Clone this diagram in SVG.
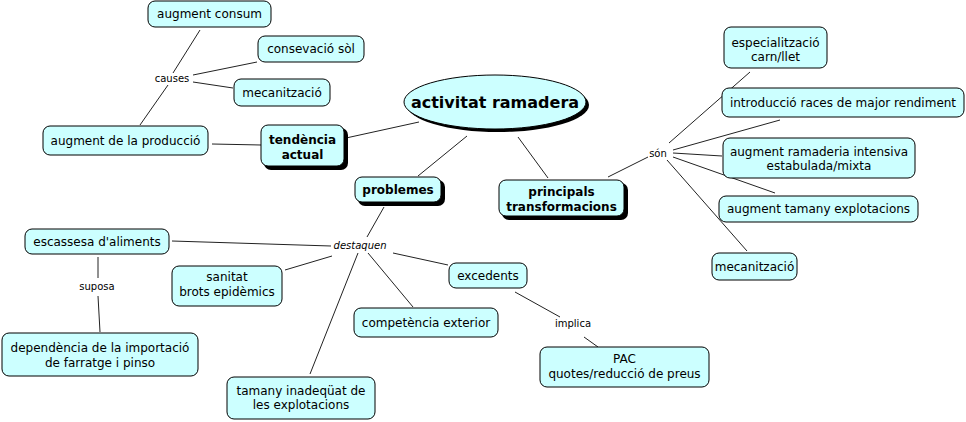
<svg xmlns="http://www.w3.org/2000/svg" width="966" height="422" viewBox="0 0 966 422">
<style>
.n{fill:#ccffff;stroke:#000;stroke-width:1}
.s{fill:#000}
.t{font-family:"DejaVu Sans",Verdana,sans-serif;font-size:12px;fill:#000;text-anchor:middle}
.b{font-weight:bold}
.l{font-family:"DejaVu Sans",Verdana,sans-serif;font-size:10px;fill:#000;text-anchor:middle}
.c line{stroke:#222;stroke-width:1}
</style>
<rect width="966" height="422" fill="#fff"/>
<g class="c" id="connectors">
<line x1="200" y1="30" x2="173" y2="73"/>
<line x1="168" y1="85" x2="140" y2="125"/>
<line x1="193" y1="75" x2="257" y2="62"/>
<line x1="193" y1="82" x2="233" y2="88"/>
<line x1="212" y1="144" x2="261" y2="145"/>
<line x1="346" y1="138" x2="419" y2="122"/>
<line x1="467" y1="136" x2="418" y2="176"/>
<line x1="518" y1="137" x2="548" y2="178"/>
<line x1="608" y1="177" x2="648" y2="157"/>
<line x1="669" y1="143" x2="750" y2="72"/>
<line x1="673" y1="150" x2="780" y2="120"/>
<line x1="673" y1="153" x2="722" y2="156"/>
<line x1="673" y1="157" x2="775" y2="193"/>
<line x1="667" y1="160" x2="747" y2="251"/>
<line x1="384" y1="207" x2="367" y2="237"/>
<line x1="172" y1="241" x2="331" y2="246"/>
<line x1="332" y1="256" x2="285" y2="270"/>
<line x1="368" y1="253" x2="413" y2="307"/>
<line x1="358" y1="253" x2="310" y2="374"/>
<line x1="393" y1="253" x2="448" y2="265"/>
<line x1="515" y1="292" x2="560" y2="317"/>
<line x1="584" y1="337" x2="598" y2="347"/>
<line x1="98" y1="257" x2="98" y2="278"/>
<line x1="98" y1="296" x2="100" y2="332"/>
</g>
<g id="n-augment-consum"><rect class="n" x="148" y="1" width="123" height="26" rx="7"/><text class="t" x="209.5" y="18">augment consum</text></g>
<g id="n-conservacio"><rect class="n" x="258" y="36" width="106" height="26" rx="7"/><text class="t" x="311" y="53">consevació sòl</text></g>
<g id="n-mecanitzacio1"><rect class="n" x="234" y="79" width="96" height="27" rx="7"/><text class="t" x="282" y="97">mecanització</text></g>
<g id="n-augment-produccio"><rect class="n" x="43" y="126" width="165" height="29" rx="7"/><text class="t" x="125.5" y="145">augment de la producció</text></g>
<g id="n-tendencia"><rect class="s" x="264" y="128" width="84" height="42" rx="7"/><rect class="n" x="261" y="125" width="83" height="41" rx="7"/><text class="t b" x="302.5" y="143.5">tendència</text><text class="t b" x="302.5" y="158.5">actual</text></g>
<g id="n-activitat"><ellipse class="s" cx="498" cy="105" rx="91" ry="27"/><ellipse class="n" cx="495" cy="102" rx="91" ry="27"/><text class="t b" style="font-size:16px" x="495" y="108">activitat ramadera</text></g>
<g id="n-problemes"><rect class="s" x="358" y="180" width="87" height="26" rx="7"/><rect class="n" x="355" y="177" width="86" height="25" rx="7"/><text class="t b" x="398" y="194">problemes</text></g>
<g id="n-principals"><rect class="s" x="502" y="183" width="126" height="37" rx="7"/><rect class="n" x="499" y="180" width="125" height="36" rx="7"/><text class="t b" x="561.5" y="196">principals</text><text class="t b" x="561.5" y="211">transformacions</text></g>
<g id="n-especialitzacio"><rect class="n" x="724" y="27" width="103" height="41" rx="7"/><text class="t" x="775.5" y="46.5">especialització</text><text class="t" x="775.5" y="60.5">carn/llet</text></g>
<g id="n-introduccio"><rect class="n" x="722" y="88" width="242" height="29" rx="7"/><text class="t" x="843" y="107">introducció races de major rendiment</text></g>
<g id="n-ramaderia"><rect class="n" x="723" y="138" width="192" height="40" rx="7"/><text class="t" x="819" y="156">augment ramaderia intensiva</text><text class="t" x="819" y="170">estabulada/mixta</text></g>
<g id="n-tamany-expl"><rect class="n" x="719" y="196" width="199" height="26" rx="7"/><text class="t" x="818.5" y="213">augment tamany explotacions</text></g>
<g id="n-mecanitzacio2"><rect class="n" x="712" y="253" width="85" height="27" rx="7"/><text class="t" x="754.5" y="271">mecanització</text></g>
<g id="n-escassesa"><rect class="n" x="25" y="229" width="144" height="25" rx="7"/><text class="t" x="97" y="246">escassesa d'aliments</text></g>
<g id="n-sanitat"><rect class="n" x="172" y="266" width="110" height="40" rx="7"/><text class="t" x="227" y="281">sanitat</text><text class="t" x="227" y="296">brots epidèmics</text></g>
<g id="n-competencia"><rect class="n" x="354" y="308" width="144" height="29" rx="7"/><text class="t" x="426" y="327">competència exterior</text></g>
<g id="n-tamany-inadequat"><rect class="n" x="227" y="377" width="148" height="42" rx="7"/><text class="t" x="301" y="395">tamany inadeqüat de</text><text class="t" x="301" y="409">les explotacions</text></g>
<g id="n-excedents"><rect class="n" x="449" y="263" width="78" height="25" rx="7"/><text class="t" x="488" y="280">excedents</text></g>
<g id="n-pac"><rect class="n" x="540" y="347" width="169" height="40" rx="7"/><text class="t" x="624.5" y="363">PAC</text><text class="t" x="624.5" y="378">quotes/reducció de preus</text></g>
<g id="n-dependencia"><rect class="n" x="2" y="333" width="196" height="43" rx="7"/><text class="t" x="100" y="352">dependència de la importació</text><text class="t" x="100" y="367">de farratge i pinso</text></g>
<g id="labels">
<text class="l" x="172" y="81.5">causes</text>
<text class="l" x="658" y="156.5">són</text>
<text class="l" x="360" y="248.5" font-style="italic">destaquen</text>
<text class="l" x="97" y="289.5">suposa</text>
<text class="l" x="573" y="327">implica</text>
</g>
</svg>
